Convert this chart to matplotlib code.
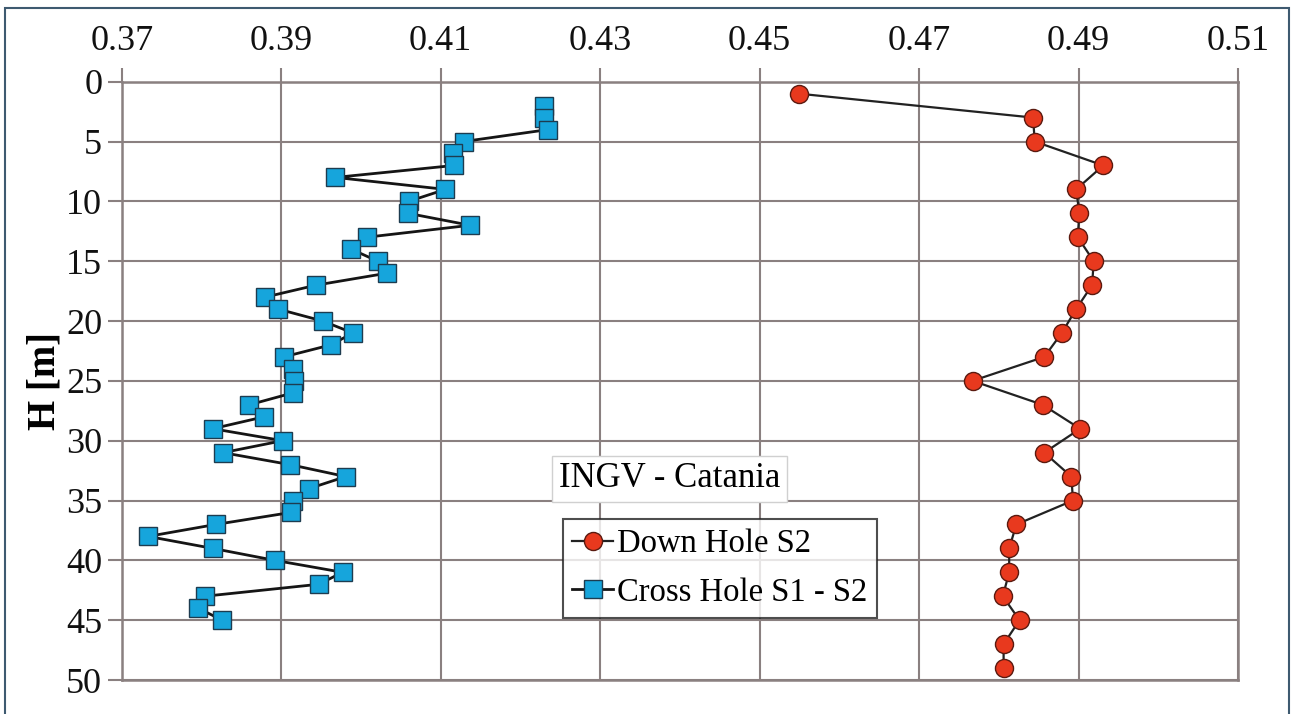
import matplotlib
matplotlib.use("Agg")
import matplotlib.pyplot as plt
from matplotlib.patches import Rectangle

# Down Hole S2
dh_depth = [1, 3, 5, 7, 9, 11, 13, 15, 17, 19, 21, 23, 25, 27, 29, 31, 33, 35,
            37, 39, 41, 43, 45, 47, 49]
dh_value = [0.4549, 0.4843, 0.4845, 0.4931, 0.4897, 0.4901, 0.4899, 0.4919, 0.4917,
            0.4897, 0.4879, 0.4857, 0.4767, 0.4855, 0.4902, 0.4857, 0.4891, 0.4893,
            0.4822, 0.4813, 0.4813, 0.4805, 0.4826, 0.4806, 0.4806]

# Cross Hole S1 - S2
ch_depth = list(range(2, 46))
ch_value = [0.4230, 0.4230, 0.4235, 0.4129, 0.4115, 0.4117, 0.3968, 0.4106, 0.4060,
            0.4059, 0.4137, 0.4007, 0.3988, 0.4021, 0.4033, 0.3944, 0.3880, 0.3896,
            0.3952, 0.3990, 0.3962, 0.3903, 0.3915, 0.3916, 0.3915, 0.3860, 0.3879,
            0.3814, 0.3902, 0.3827, 0.3911, 0.3981, 0.3935, 0.3915, 0.3912, 0.3818,
            0.3733, 0.3814, 0.3892, 0.3977, 0.3947, 0.3804, 0.3796, 0.3826]

x_ticks = [0.37, 0.39, 0.41, 0.43, 0.45, 0.47, 0.49, 0.51]
y_ticks = [0, 5, 10, 15, 20, 25, 30, 35, 40, 45, 50]

plt.rcParams['font.family'] = ['Liberation Serif', 'DejaVu Serif']

fig = plt.figure(figsize=(12.95, 7.14), dpi=100)
ax = fig.add_axes([0.094, 0.0476, 0.862, 0.838])

grid_c = '#8a8080'
ax.plot(dh_value, dh_depth, '-', color='#222222', lw=1.6, marker='o', ms=13,
        mfc='#e8391e', mec='#5a1a10', mew=1.0, label='Down Hole S2', zorder=3)
ax.plot(ch_value, ch_depth, '-', color='#151515', lw=2.0, marker='s', ms=13,
        mfc='#16a5dc', mec='#1d3c50', mew=1.0, label='Cross Hole S1 - S2', zorder=4)

ax.set_xlim(0.37, 0.51)
ax.set_ylim(50, 0)
ax.set_xticks(x_ticks)
ax.set_xticklabels([f"{v:.2f}" for v in x_ticks])
ax.set_yticks(y_ticks)
ax.xaxis.tick_top()
ax.tick_params(axis='both', labelsize=26, color=grid_c, width=1.5, length=10,
               labelcolor='#111111')
ax.tick_params(axis='x', pad=7)
ax.tick_params(axis='y', pad=4)
ax.grid(True, color=grid_c, lw=1.5)
ax.set_axisbelow(True)
for s in ax.spines.values():
    s.set_color(grid_c)
    s.set_linewidth(1.8)

ax.set_ylabel('H [m]', fontsize=28, fontweight='bold', labelpad=2)

ax.text(0.491, 0.336, 'INGV - Catania', transform=ax.transAxes, fontsize=25,
        ha='center', va='center',
        bbox=dict(boxstyle='square,pad=0.2', fc='white', ec='#d0d0d0', lw=1))

leg = ax.legend(loc='upper left', bbox_to_anchor=(0.395, 0.269), fontsize=23.5,
                handlelength=1.25, handletextpad=0.1, borderpad=0.3,
                labelspacing=0.55, fancybox=False, frameon=True, markerscale=1.0,
                borderaxespad=0)
leg.get_frame().set_edgecolor('#222222')
leg.get_frame().set_linewidth(1.5)

fig.patches.append(Rectangle((5 / 1295, -0.1), 1284 / 1295, 1.1 - 8 / 714,
                             transform=fig.transFigure, fill=False,
                             ec='#3e5a70', lw=1.5))

fig.savefig('out.png', dpi=100)
